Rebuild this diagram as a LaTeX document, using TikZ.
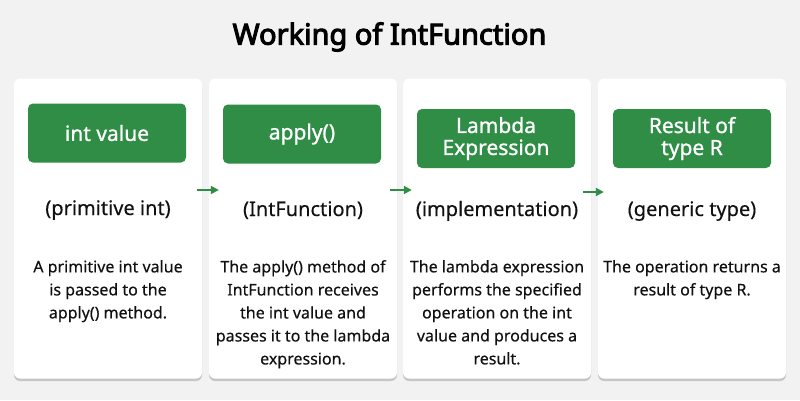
\documentclass[tikz,border=0pt]{standalone}
\usepackage{fontspec}
\setmainfont{Noto Sans}[FakeBold=0.35]
\newfontfamily\titlefont{Noto Sans}[FakeBold=3.5]
\newfontfamily\headfont{Noto Sans}[FakeBold=1]
\usetikzlibrary{arrows.meta,shadows}
\definecolor{bg}{HTML}{F2F2F2}
\definecolor{gfg}{HTML}{2F8D46}
\definecolor{txt}{HTML}{111111}
\begin{document}
\begin{tikzpicture}[x=1pt,y=-1pt,
 card/.style={fill=white, rounded corners=6pt, minimum width=188pt, minimum height=300pt, inner sep=0pt,
   drop shadow={shadow xshift=0pt,shadow yshift=-2.5pt,opacity=0.18,fill=black}},
 head/.style={fill=gfg, rounded corners=5pt, minimum width=158pt, minimum height=59pt, text=white, align=center,
   font=\headfont\fontsize{21}{22}\selectfont, inner sep=0pt},
 sub/.style={anchor=base, text=txt, font=\fontsize{20}{24}\selectfont, inner sep=0pt},
 desc/.style={anchor=north, text=txt, align=center, font=\fontsize{16}{23}\selectfont, inner sep=0pt},
 flow/.style={draw=gfg, line width=1.8pt, -{Triangle[length=8pt,width=8pt]}}
]
\fill[bg] (0,0) rectangle (800,400);
\useasboundingbox (0,0) rectangle (800,400);

\node[font=\titlefont\fontsize{29}{32}\selectfont, text=black] (title) at (389.5,37) {Working of IntFunction};

\node[card] (c1) at (108,228.5) {};
\node[card] (c2) at (303,228.5) {};
\node[card] (c3) at (497,228.5) {};
\node[card] (c4) at (692,228.5) {};

\node[head] (h1) at (107,133) {int value};
\node[head] (h2) at (302,134) {apply()};
\node[head] (h3) at (496,138.5) {Lambda\\Expression};
\node[head] (h4) at (692,138.5) {Result of\\type R};

\node[sub] (s1) at (108,215) {(primitive int)};
\node[sub] (s2) at (303,216) {(IntFunction)};
\node[sub] (s3) at (497,216) {(implementation)};
\node[sub] (s4) at (692,216) {(generic type)};

\node[desc] (d1) at (108,260) {A primitive int value\\is passed to the\\apply() method.};
\node[desc] (d2) at (303,260) {The apply() method of\\IntFunction receives\\the int value and\\passes it to the lambda\\expression.};
\node[desc] (d3) at (497,260) {The lambda expression\\performs the specified\\operation on the int\\value and produces a\\result.};
\node[desc] (d4) at (692,260) {The operation returns a\\result of type R.};

\draw[flow] ([shift={(-5,-38.5)}]c1.east) -- ([shift={(10,-38.5)}]c2.west);
\draw[flow] ([shift={(-7,-38.5)}]c2.east) -- ([shift={(9,-38.5)}]c3.west);
\draw[flow] ([shift={(-8,-36.5)}]c3.east) -- ([shift={(6,-36.5)}]c4.west);
\end{tikzpicture}
\end{document}
